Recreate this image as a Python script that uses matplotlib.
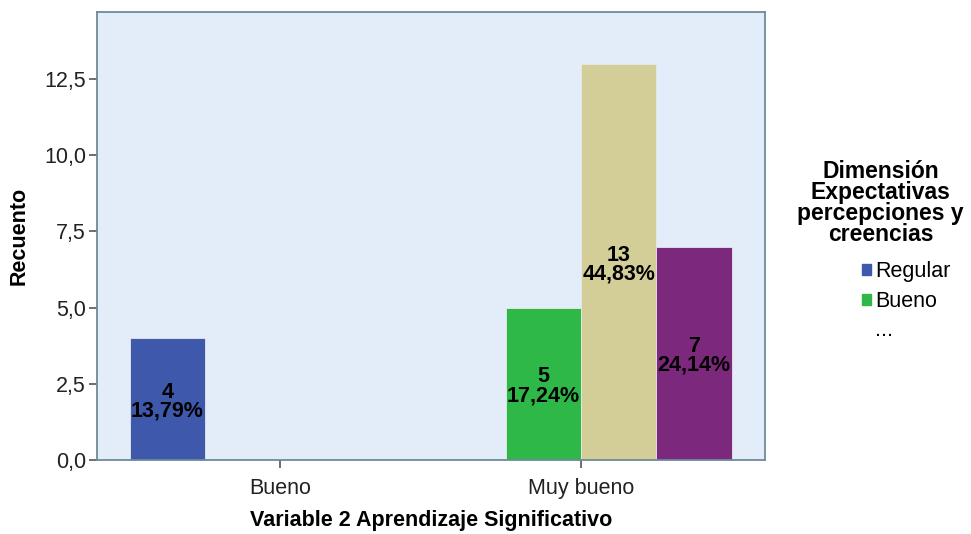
import numpy as np
import matplotlib.pyplot as plt
from matplotlib.patches import Patch

plt.rcParams['font.family'] = ['Liberation Sans', 'DejaVu Sans']

# %% data
groups = ["Bueno", "Muy bueno"]
series = ["Regular", "Bueno", "Muy bueno", "Excelente"]
counts = [
    [4, 0],    # Regular
    [0, 5],    # Bueno
    [0, 13],   # third level
    [0, 7],    # fourth level
]
colors = ["#3E58AC", "#2EB848", "#D3CE97", "#7C287D"]
yticks = [0, 2.5, 5.0, 7.5, 10.0, 12.5]
total = sum(sum(c) for c in counts)

# %% figure
fig = plt.figure(figsize=(9.71, 5.34), dpi=100)
ax = fig.add_axes([0.0999, 0.1386, 0.6879, 0.8389])
ax.set_facecolor("#E2EDF9")

x = np.arange(len(groups))
w = 0.25
for i, (name, vals) in enumerate(zip(series, counts)):
    pos = x + (i - 1.5) * w
    ax.bar(pos, vals, width=w, color=colors[i], edgecolor="#E8E8E8",
           linewidth=0.6, label=name)
    for p, v in zip(pos, vals):
        if v > 0:
            pct = f"{100 * v / total:.2f}".replace(".", ",")
            ax.text(p, v / 2 - 0.08, f"{v}\n{pct}%", ha="center", va="center",
                    fontsize=15.5, fontweight="bold", linespacing=0.85)

ax.set_xlim(-0.608, 1.611)
ax.set_ylim(0, 14.7)
ax.set_xticks(x)
ax.set_xticklabels(groups, fontsize=15.5)
ax.set_yticks(yticks)
ax.set_yticklabels([f"{t:.1f}".replace(".", ",") for t in yticks], fontsize=15.5)
ax.tick_params(axis="y", direction="out", length=6, width=1.2, color="#555555",
               labelcolor="#222222", pad=2)
ax.tick_params(axis="x", direction="out", length=6, width=1.2, color="#555555",
               labelcolor="#222222", pad=7)

for s in ax.spines.values():
    s.set_color("#6E8A9A")
    s.set_linewidth(1.3)

ax.set_xlabel("Variable 2 Aprendizaje Significativo", fontsize=15.5,
              fontweight="bold", labelpad=8)
ax.set_ylabel("Recuento", fontsize=15.5, fontweight="bold", labelpad=10)

# legend (SPSS style, truncated)
fig.text(0.907, 0.62, "Dimensión\nExpectativas\npercepciones y\ncreencias",
         ha="center", va="center", fontsize=16.5, fontweight="bold",
         linespacing=0.9)
handles = [Patch(color=colors[0]), Patch(color=colors[1]),
           Patch(color="none")]
fig.legend(handles, ["Regular", "Bueno", "..."], loc="upper left",
           bbox_to_anchor=(0.877, 0.531), frameon=False, fontsize=15.5,
           handlelength=0.4, handleheight=0.4, handletextpad=0.2,
           labelspacing=0.4, borderpad=0)

fig.savefig("out.png", dpi=100)
